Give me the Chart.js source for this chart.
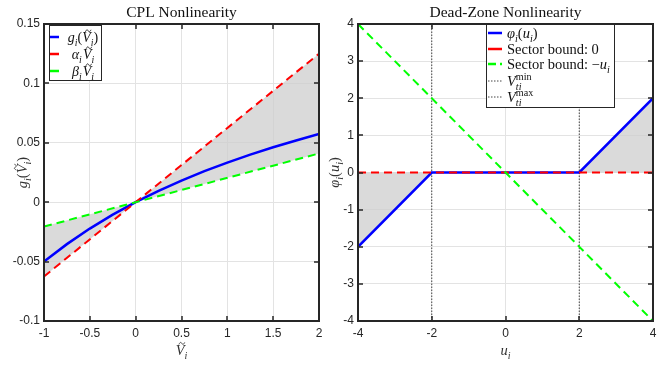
<!DOCTYPE html>
<html>
<head>
<meta charset="utf-8">
<script src="https://cdn.jsdelivr.net/npm/chart.js@4.4.1/dist/chart.umd.min.js"></script>
<style>
html, body { margin: 0; padding: 0; background: #fff; }
#wrap { position: relative; width: 668px; height: 366px; overflow: hidden; }
#cpl { position: absolute; left: 0; top: 0; }
#dz { position: absolute; left: 320px; top: 0; }
</style>
</head>
<body>
<div id="wrap">
  <canvas id="cpl" width="334" height="366"></canvas>
  <canvas id="dz" width="348" height="366"></canvas>
</div>
<script>
// CPL nonlinearity
const cplV = [-1, -0.75, -0.5, -0.25, 0, 0.25, 0.5, 0.75, 1, 1.25, 1.5, 1.75, 2];
const cplG = [-0.05, -0.0353, -0.0222, -0.0105, 0, 0.0095, 0.0182, 0.0261, 0.0333, 0.04, 0.0462, 0.0519, 0.0574];
const sectorV = [-1, 2];
const alphaV = [-0.0625, 0.125];
const betaV = [-0.0205, 0.041];
const cplXTicks = [-1, -0.5, 0, 0.5, 1, 1.5, 2];
const cplXLabels = ['-1', '-0.5', '0', '0.5', '1', '1.5', '2'];
const cplYTicks = [-0.1, -0.05, 0, 0.05, 0.1, 0.15];
const cplYLabels = ['-0.1', '-0.05', '0', '0.05', '0.1', '0.15'];

// dead-zone nonlinearity
const dzU = [-4, -2, 2, 4];
const dzPhi = [-2, 0, 0, 2];
const boundU = [-4, 4];
const boundZero = [0, 0];
const boundNeg = [4, -4];
const vMin = -2;
const vMax = 2;
const dzXTicks = [-4, -2, 0, 2, 4];
const dzXLabels = ['-4', '-2', '0', '2', '4'];
const dzYTicks = [-4, -3, -2, -1, 0, 1, 2, 3, 4];
const dzYLabels = ['-4', '-3', '-2', '-1', '0', '1', '2', '3', '4'];

const BLUE = '#0000ff', RED = '#ff0000', GREEN = '#00ff00', AXIS = '#262626';
const SERIF = '"Liberation Serif", "DejaVu Serif", serif';
const SANS = '"Liberation Sans", Arial, sans-serif';

const pts = (xs, ys) => xs.map((x, i) => ({ x: x, y: ys[i] }));

// tiny math text: segs = [{t, i (italic), s ('sub'|'sup'), back (stack on previous), tilde}]
function segFont(seg, size) {
  const sz = seg.s ? size * 0.7 : size;
  return (seg.i ? 'italic ' : '') + sz + 'px ' + SERIF;
}
function mathWidth(ctx, segs, size) {
  let x = 0, prevStart = 0, maxX = 0;
  segs.forEach(seg => {
    if (seg.back) x = prevStart;
    ctx.font = segFont(seg, size);
    prevStart = x;
    x += ctx.measureText(seg.t).width + (seg.gap || 0) * size;
    maxX = Math.max(maxX, x);
  });
  return maxX;
}
function drawMath(ctx, segs, x0, y0, size, align) {
  const w = mathWidth(ctx, segs, size);
  let x = align === 'center' ? x0 - w / 2 : align === 'right' ? x0 - w : x0;
  let prevStart = x;
  ctx.textAlign = 'left';
  ctx.textBaseline = 'alphabetic';
  segs.forEach(seg => {
    if (seg.back) x = prevStart;
    ctx.font = segFont(seg, size);
    const dy = seg.s === 'sub' ? size * 0.28 : seg.s === 'sup' ? -size * 0.42 : 0;
    ctx.fillText(seg.t, x, y0 + dy);
    const sw = ctx.measureText(seg.t).width;
    if (seg.tilde) {
      // small wave over the letter
      const tx = x + sw / 2 + size * 0.12, ty = y0 - size * 0.8, hw = size * 0.2;
      ctx.save();
      ctx.strokeStyle = ctx.fillStyle;
      ctx.lineWidth = Math.max(0.8, size * 0.06);
      ctx.beginPath();
      ctx.moveTo(tx - hw, ty + 1);
      ctx.bezierCurveTo(tx - hw * 0.5, ty - 2, tx - hw * 0.2, ty - 1, tx, ty);
      ctx.bezierCurveTo(tx + hw * 0.2, ty + 1, tx + hw * 0.5, ty + 2, tx + hw, ty - 1);
      ctx.stroke();
      ctx.restore();
    }
    prevStart = x;
    x += sw + (seg.gap || 0) * size;
  });
}

const Vt = [{ t: 'V', i: true, tilde: true }, { t: 'i', i: true, s: 'sub' }];

const framePlugin = {
  id: 'frame',
  afterDatasetsDraw(chart, args, o) {
    const { ctx, chartArea: a, scales } = chart;
    ctx.save();
    ctx.strokeStyle = AXIS;
    ctx.lineWidth = 1.5;
    ctx.beginPath();
    o.xTicks.forEach(v => {
      const px = Math.round(scales.x.getPixelForValue(v));
      ctx.moveTo(px, a.bottom); ctx.lineTo(px, a.bottom - 5);
      ctx.moveTo(px, a.top); ctx.lineTo(px, a.top + 5);
    });
    o.yTicks.forEach(v => {
      const py = Math.round(scales.y.getPixelForValue(v));
      ctx.moveTo(a.left, py); ctx.lineTo(a.left + 5, py);
      ctx.moveTo(a.right, py); ctx.lineTo(a.right - 5, py);
    });
    ctx.stroke();
    ctx.lineWidth = 2;
    ctx.strokeRect(a.left, a.top, a.right - a.left, a.bottom - a.top);
    ctx.restore();
  },
  afterDraw(chart, args, o) {
    const { ctx, chartArea: a } = chart;
    const cx = (a.left + a.right) / 2;
    const cy = (a.top + a.bottom) / 2;
    ctx.save();
    ctx.fillStyle = '#111';
    ctx.font = '15.5px ' + SERIF;
    ctx.textAlign = 'center';
    ctx.textBaseline = 'alphabetic';
    ctx.fillText(o.title, cx, 17);
    ctx.fillStyle = '#333';
    drawMath(ctx, o.xLabel, cx, 355, 14.5, 'center');
    ctx.save();
    ctx.translate(o.yLabelX, cy);
    ctx.rotate(-Math.PI / 2);
    drawMath(ctx, o.yLabel, 0, 0, 14.5, 'center');
    ctx.restore();

    // legend box
    const L = o.legend;
    ctx.fillStyle = '#fff';
    ctx.fillRect(L.x, L.y, L.w, L.h);
    ctx.strokeStyle = AXIS;
    ctx.lineWidth = 1;
    ctx.strokeRect(L.x + 0.5, L.y + 0.5, L.w, L.h);
    L.items.forEach((it, k) => {
      const ry = L.rows[k];
      ctx.strokeStyle = it.color;
      ctx.lineWidth = it.width;
      ctx.setLineDash(it.dash);
      ctx.beginPath();
      ctx.moveTo(L.lineX0, ry);
      ctx.lineTo(L.lineX1, ry);
      ctx.stroke();
      ctx.setLineDash([]);
      ctx.fillStyle = '#111';
      drawMath(ctx, it.segs, L.textX, ry + 5, L.size, L.align);
    });
    ctx.restore();
  }
};

function tickAxis(ticks, labels, min, max) {
  return {
    type: 'linear',
    min: min,
    max: max,
    afterBuildTicks: s => { s.ticks = ticks.map(v => ({ value: v })); },
    ticks: {
      callback: (v, idx) => labels[idx],
      font: { family: SANS, size: 12 },
      color: AXIS,
      autoSkip: false,
      maxRotation: 0,
      padding: 5
    },
    grid: { color: '#e3e3e3', lineWidth: 1, drawTicks: false },
    border: { display: false }
  };
}

function baseOptions(o) {
  const x = tickAxis(o.xTicks, o.xLabels, o.xMin, o.xMax);
  const y = tickAxis(o.yTicks, o.yLabels, o.yMin, o.yMax);
  x.afterFit = s => { s.height = 45; };
  y.afterFit = s => { s.width = o.yWidth; };
  y.ticks.padding = 4;
  return {
    responsive: false,
    animation: false,
    layout: { padding: { left: 0, right: 15, top: 24, bottom: 0 } },
    scales: { x: x, y: y },
    elements: { point: { radius: 0 }, line: { tension: 0 } },
    plugins: {
      legend: { display: false },
      tooltip: { enabled: false },
      filler: { drawTime: 'beforeDatasetsDraw' },
      frame: o.frame
    }
  };
}

const FILL = 'rgba(205,205,205,0.75)';

new Chart(document.getElementById('cpl'), {
  type: 'line',
  data: {
    datasets: [
      { data: pts(sectorV, betaV), borderColor: GREEN, borderWidth: 2, borderDash: [8, 5], fill: { target: 1 }, backgroundColor: FILL },
      { data: pts(sectorV, alphaV), borderColor: RED, borderWidth: 2, borderDash: [8, 5], fill: false },
      { data: pts(cplV, cplG), borderColor: BLUE, borderWidth: 2.5, fill: false }
    ]
  },
  options: baseOptions({
    xTicks: cplXTicks, xLabels: cplXLabels, xMin: -1, xMax: 2,
    yTicks: cplYTicks, yLabels: cplYLabels, yMin: -0.1, yMax: 0.15,
    yWidth: 44,
    frame: {
      xTicks: cplXTicks, yTicks: cplYTicks,
      title: 'CPL Nonlinearity',
      xLabel: Vt,
      yLabel: [{ t: 'g', i: true }, { t: 'i', i: true, s: 'sub' }, { t: '(' }].concat(Vt, [{ t: ')' }]),
      yLabelX: 27,
      legend: {
        x: 49, y: 25, w: 52, h: 55, rows: [37, 54, 71], lineX0: 50, lineX1: 59, textX: 83, align: 'center', size: 14,
        items: [
          { color: BLUE, width: 2.5, dash: [], segs: [{ t: 'g', i: true }, { t: 'i', i: true, s: 'sub' }, { t: '(' }].concat(Vt, [{ t: ')' }]) },
          { color: RED, width: 2.5, dash: [], segs: [{ t: 'α', i: true }, { t: 'i', i: true, s: 'sub', gap: 0.08 }].concat(Vt) },
          { color: GREEN, width: 2.5, dash: [], segs: [{ t: 'β', i: true }, { t: 'i', i: true, s: 'sub', gap: 0.08 }].concat(Vt) }
        ]
      }
    }
  }),
  plugins: [framePlugin]
});

const DOT = '#444';
new Chart(document.getElementById('dz'), {
  type: 'line',
  data: {
    datasets: [
      { data: pts(boundU, boundNeg), borderColor: GREEN, borderWidth: 2, borderDash: [8, 5], fill: false },
      { data: pts(boundU, boundZero), borderColor: RED, borderWidth: 2, borderDash: [8, 5], fill: false },
      { data: pts(dzU, dzPhi), borderColor: BLUE, borderWidth: 2.5, fill: 'origin', backgroundColor: FILL },
      { data: pts([vMin, vMin], [-4, 4]), borderColor: DOT, borderWidth: 1, borderDash: [1.5, 1.5], fill: false },
      { data: pts([vMax, vMax], [-4, 4]), borderColor: DOT, borderWidth: 1, borderDash: [1.5, 1.5], fill: false }
    ]
  },
  options: baseOptions({
    xTicks: dzXTicks, xLabels: dzXLabels, xMin: -4, xMax: 4,
    yTicks: dzYTicks, yLabels: dzYLabels, yMin: -4, yMax: 4,
    yWidth: 38,
    frame: {
      xTicks: dzXTicks, yTicks: dzYTicks,
      title: 'Dead-Zone Nonlinearity',
      xLabel: [{ t: 'u', i: true }, { t: 'i', i: true, s: 'sub' }],
      yLabel: [{ t: 'φ', i: true }, { t: 'i', i: true, s: 'sub' }, { t: '(' }, { t: 'u', i: true }, { t: 'i', i: true, s: 'sub' }, { t: ')' }],
      yLabelX: 19,
      legend: {
        x: 166, y: 24, w: 128, h: 83, rows: [33, 49, 64, 81, 97], lineX0: 168, lineX1: 182, textX: 187, align: 'left', size: 14.5,
        items: [
          { color: BLUE, width: 2.5, dash: [], segs: [{ t: 'φ', i: true }, { t: 'i', i: true, s: 'sub' }, { t: '(' }, { t: 'u', i: true }, { t: 'i', i: true, s: 'sub' }, { t: ')' }] },
          { color: RED, width: 2.5, dash: [], segs: [{ t: 'Sector bound: 0' }] },
          { color: GREEN, width: 2.5, dash: [8, 4], segs: [{ t: 'Sector bound: −' }, { t: 'u', i: true }, { t: 'i', i: true, s: 'sub' }] },
          { color: DOT, width: 1, dash: [1.5, 1.5], segs: [{ t: 'V', i: true }, { t: 'ti', i: true, s: 'sub' }, { t: 'min', s: 'sup', back: true }] },
          { color: DOT, width: 1, dash: [1.5, 1.5], segs: [{ t: 'V', i: true }, { t: 'ti', i: true, s: 'sub' }, { t: 'max', s: 'sup', back: true }] }
        ]
      }
    }
  }),
  plugins: [framePlugin]
});
</script>
</body>
</html>
